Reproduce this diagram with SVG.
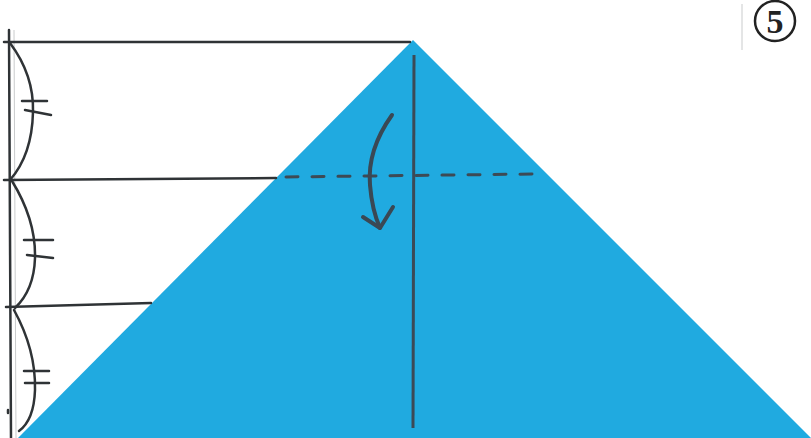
<svg xmlns="http://www.w3.org/2000/svg" width="811" height="438" viewBox="0 0 811 438">
<style>
.ink{stroke:#2f3336;stroke-width:2.5;fill:none;stroke-linecap:round}
.faint{stroke:#c9cbcc;stroke-width:1;fill:none}
.dash{stroke:#3d4a55;stroke-width:3;stroke-dasharray:12 14;fill:none;stroke-linecap:round}
</style>
<rect width="811" height="438" fill="#ffffff"/>
<g id="paper">
<polygon points="413,40 811,438 18,438" fill="#20aae0"/>
</g>
<g id="guides">
<line class="faint" x1="14" y1="30" x2="16" y2="438"/>
<line class="faint" x1="742" y1="4" x2="742" y2="50"/>
<line class="ink" x1="9" y1="30" x2="11" y2="438"/>
<line class="ink" x1="4" y1="42" x2="410" y2="42"/>
<line class="ink" x1="4" y1="180" x2="276" y2="178"/>
<line class="ink" x1="6" y1="307" x2="151" y2="303"/>
</g>
<g id="braces">
<path class="ink" d="M10,43 Q34,75 33,112 Q32,155 10,180"/>
<path class="ink" d="M22,101 L47,101 M25,110 L51,115"/>
<path class="ink" d="M12,181 Q36,220 35,258 Q34,290 15,308"/>
<path class="ink" d="M24,240 L53,240 M27,255 L53,258"/>
<path class="ink" d="M14,310 Q36,350 35,390 Q34,420 19,431"/>
<path class="ink" d="M24,371 L49,371 M25,383 L49,383"/>
<path class="ink" d="M8,410 L8,413"/>
</g>
<g id="fold">
<line class="dash" x1="286" y1="177" x2="535" y2="174"/>
<line x1="414" y1="55" x2="413" y2="428" stroke="#3c4a56" stroke-width="3"/>
<path d="M392,115 Q367,150 370,185 Q372,210 380,228" stroke="#3a4854" stroke-width="4" fill="none" stroke-linecap="round"/>
<path d="M363,217 L380,228 L393,207" stroke="#3a4854" stroke-width="4" fill="none" stroke-linecap="round" stroke-linejoin="round"/>
</g>
<g id="step">
<circle cx="775" cy="21" r="20" fill="none" stroke="#222" stroke-width="2.5"/>
<text x="775" y="33" text-anchor="middle" font-family="Liberation Serif, serif" font-size="34" font-weight="bold" fill="#222">5</text>
</g>
</svg>
